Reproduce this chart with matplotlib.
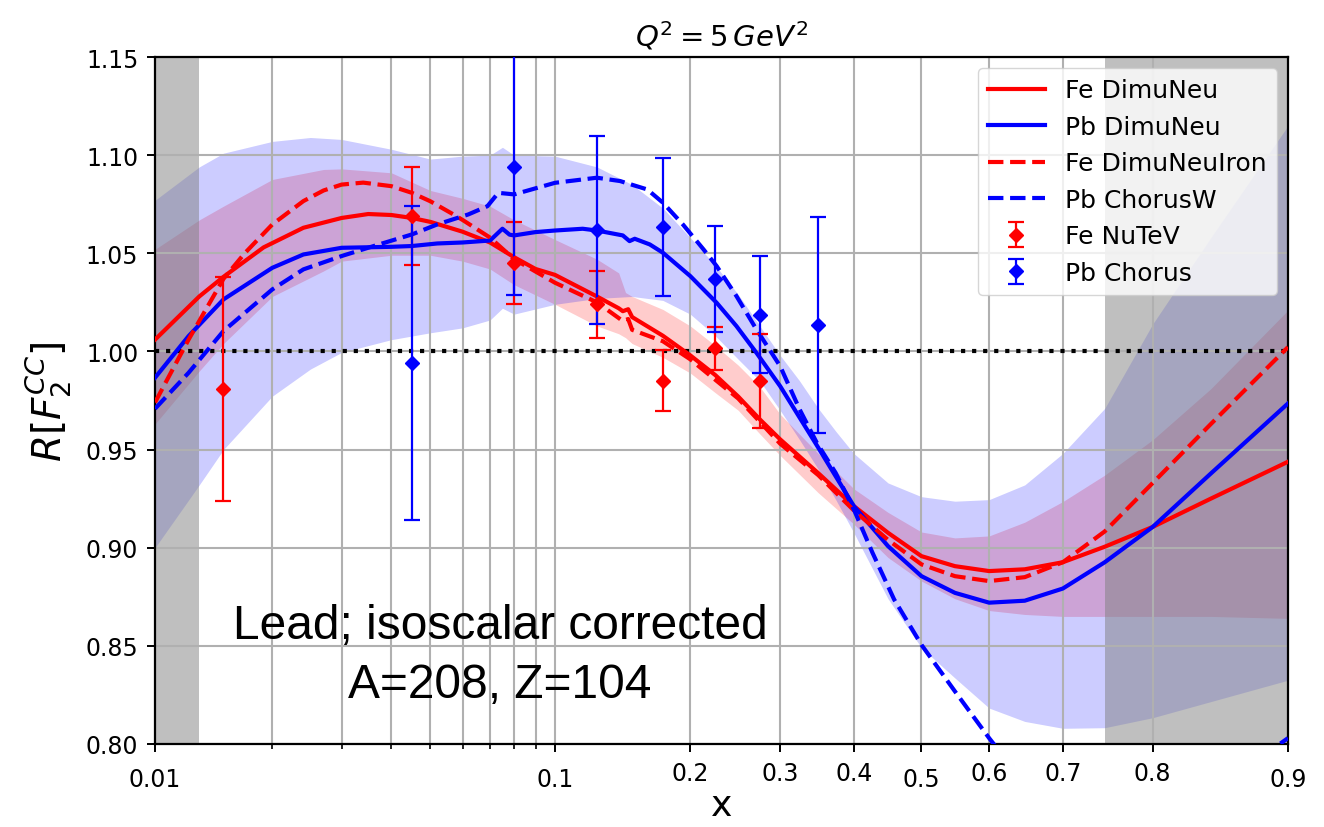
import numpy as np
import matplotlib
matplotlib.use("Agg")
import matplotlib.pyplot as plt
from matplotlib.ticker import NullFormatter

# ---------------- data ----------------
# central curves
fe_dimu_x = [0.01, 0.013, 0.015, 0.019, 0.024, 0.03, 0.035, 0.04, 0.045, 0.05, 0.06, 0.07,
             0.08, 0.09, 0.1, 0.125, 0.14, 0.143, 0.147, 0.15, 0.175, 0.2, 0.225, 0.25,
             0.275, 0.3, 0.35, 0.4, 0.45, 0.5, 0.55, 0.6, 0.65, 0.7, 0.75, 0.8, 0.85, 0.9]
fe_dimu_y = [1.006, 1.028, 1.038, 1.053, 1.063, 1.068, 1.070, 1.0695, 1.068, 1.066, 1.061, 1.0555,
             1.048, 1.042, 1.039, 1.028, 1.022, 1.0205, 1.0215, 1.0175, 1.008, 0.998, 0.988, 0.977,
             0.9654, 0.9552, 0.938, 0.9212, 0.9076, 0.8957, 0.8906, 0.8881, 0.889, 0.8926, 0.9005,
             0.9106, 0.925, 0.9438]

pb_dimu_x = [0.01, 0.0122, 0.015, 0.02, 0.024, 0.03, 0.04, 0.045, 0.052, 0.06, 0.07, 0.075,
             0.078, 0.08, 0.09, 0.1, 0.116, 0.125, 0.143, 0.148, 0.152, 0.164, 0.175, 0.2,
             0.2265, 0.248, 0.271, 0.3, 0.35, 0.4, 0.45, 0.5, 0.55, 0.6, 0.65, 0.7, 0.75,
             0.8, 0.85, 0.9]
pb_dimu_y = [0.9866, 1.0078, 1.0265, 1.0426, 1.0494, 1.0528, 1.0533, 1.0537, 1.055, 1.0555,
             1.0565, 1.0625, 1.0595, 1.0591, 1.0608, 1.0616, 1.0625, 1.0616, 1.0591, 1.0562,
             1.0574, 1.0545, 1.0503, 1.0384, 1.0248, 1.0129, 0.9993, 0.9823, 0.951, 0.9212,
             0.9008, 0.8855, 0.877, 0.872, 0.873, 0.8792, 0.8926, 0.9106, 0.9378, 0.9735]

fe_iron_x = [0.01, 0.0122, 0.015, 0.017, 0.02, 0.024, 0.027, 0.03, 0.034, 0.04, 0.045, 0.05,
             0.057, 0.06, 0.07, 0.08, 0.1, 0.125, 0.143, 0.147, 0.15, 0.175, 0.2, 0.25, 0.3,
             0.35, 0.4, 0.45, 0.5, 0.55, 0.6, 0.65, 0.7, 0.75, 0.8, 0.85, 0.9]
fe_iron_y = [0.974, 1.006, 1.037, 1.050, 1.0647, 1.0766, 1.082, 1.085, 1.086, 1.0842, 1.0808,
             1.0765, 1.0698, 1.067, 1.058, 1.047, 1.035, 1.025, 1.0155, 1.0165, 1.011, 1.0052,
             0.996, 0.976, 0.953, 0.937, 0.919, 0.904, 0.8915, 0.8855, 0.883, 0.885, 0.8926,
             0.9083, 0.933, 0.963, 1.0022]

pb_chorusw_x = [0.01, 0.0122, 0.015, 0.02, 0.024, 0.03, 0.036, 0.045, 0.052, 0.062, 0.069,
                0.0733, 0.08, 0.1, 0.125, 0.141, 0.162, 0.175, 0.193, 0.213, 0.2265, 0.248,
                0.271, 0.3, 0.325, 0.348, 0.374, 0.4, 0.427, 0.459, 0.5, 0.55, 0.6, 0.65,
                0.7, 0.75, 0.8, 0.85, 0.9]
pb_chorusw_y = [0.9708, 0.9891, 1.0104, 1.0316, 1.0418, 1.0486, 1.0536, 1.0596, 1.0647, 1.0698,
                1.074, 1.0808, 1.080, 1.0859, 1.0885, 1.0868, 1.0825, 1.0758, 1.0647, 1.052,
                1.0435, 1.0282, 1.0112, 0.9925, 0.9705, 0.9535, 0.9382, 0.9195, 0.8975, 0.8737,
                0.8505, 0.8268, 0.803, 0.780, 0.765, 0.758, 0.760, 0.775, 0.803]

# uncertainty bands
pb_band_x = [0.01, 0.013, 0.015, 0.02, 0.025, 0.03, 0.04, 0.05, 0.06, 0.07, 0.075, 0.08, 0.1,
             0.125, 0.15, 0.175, 0.2, 0.225, 0.25, 0.275, 0.3, 0.325, 0.35, 0.375, 0.4, 0.45,
             0.5, 0.55, 0.6, 0.65, 0.7, 0.75, 0.8, 0.85, 0.9]
pb_band_hi = [1.077, 1.094, 1.101, 1.107, 1.109, 1.108, 1.103, 1.098, 1.0995, 1.100, 1.104,
              1.100, 1.0995, 1.094, 1.085, 1.073, 1.058, 1.044, 1.029, 1.013, 0.998, 0.985,
              0.971, 0.959, 0.948, 0.933, 0.926, 0.9237, 0.9245, 0.932, 0.948, 0.971, 1.014,
              1.058, 1.115]
pb_band_lo = [0.900, 0.932, 0.950, 0.9772, 0.991, 0.9995, 1.006, 1.0095, 1.012, 1.016, 1.022,
              1.019, 1.024, 1.027, 1.028, 1.026, 1.019, 1.008, 0.996, 0.985, 0.970, 0.955,
              0.940, 0.924, 0.9076, 0.874, 0.849, 0.8336, 0.8183, 0.8115, 0.808, 0.8083,
              0.8134, 0.8216, 0.8325]

fe_band_x = [0.01, 0.013, 0.015, 0.02, 0.027, 0.03, 0.04, 0.05, 0.06, 0.07, 0.08, 0.1, 0.125,
             0.14, 0.145, 0.15, 0.175, 0.2, 0.225, 0.25, 0.275, 0.3, 0.35, 0.4, 0.45, 0.5,
             0.55, 0.6, 0.65, 0.7, 0.75, 0.8, 0.85, 0.9]
fe_band_hi = [1.052, 1.067, 1.074, 1.0876, 1.0927, 1.093, 1.091, 1.082, 1.078, 1.074, 1.067,
              1.057, 1.047, 1.040, 1.030, 1.028, 1.0214, 1.013, 1.003, 0.993, 0.982, 0.968,
              0.948, 0.930, 0.918, 0.908, 0.905, 0.906, 0.913, 0.9235, 0.937, 0.955, 0.981,
              1.021]
fe_band_lo = [0.963, 0.990, 1.004, 1.028, 1.041, 1.046, 1.049, 1.049, 1.046, 1.042, 1.034,
              1.024, 1.013, 1.009, 1.007, 1.004, 0.997, 0.989, 0.979, 0.970, 0.958, 0.947,
              0.928, 0.912, 0.895, 0.883, 0.874, 0.868, 0.866, 0.865, 0.865, 0.865, 0.865,
              0.864]

# data points
fe_nutev_x = [0.015, 0.045, 0.08, 0.125, 0.175, 0.225, 0.275]
fe_nutev_y = [0.981, 1.069, 1.045, 1.024, 0.985, 1.0015, 0.985]
fe_nutev_err = [0.057, 0.025, 0.021, 0.017, 0.0155, 0.011, 0.024]

pb_chorus_x = [0.045, 0.08, 0.125, 0.175, 0.225, 0.275, 0.35]
pb_chorus_y = [0.994, 1.094, 1.062, 1.0634, 1.0371, 1.0188, 1.0136]
pb_chorus_err = [0.080, 0.065, 0.048, 0.035, 0.027, 0.030, 0.055]

# axes / ticks
x_major = [0.01, 0.1, 0.2, 0.3, 0.4, 0.5, 0.6, 0.7, 0.8, 0.9]
x_major_labels = ["0.01", "0.1", "0.2", "0.3", "0.4", "0.5", "0.6", "0.7", "0.8", "0.9"]
x_lowered_labels = ["0.01", "0.1", "0.5", "0.9"]
x_minor = [0.02, 0.03, 0.04, 0.05, 0.06, 0.07, 0.08, 0.09]
y_ticks = [0.80, 0.85, 0.90, 0.95, 1.00, 1.05, 1.10, 1.15]
y_tick_labels = ["0.80", "0.85", "0.90", "0.95", "1.00", "1.05", "1.10", "1.15"]
gray_regions = [(0.01, 0.013), (0.75, 0.9)]

# ---------------- figure ----------------
W, H = 1324, 828
fig = plt.figure(figsize=(W / 100, H / 100), dpi=100)
ax_l, ax_r, ax_t, ax_b = 155, 1288, 58, 745
ax = fig.add_axes([ax_l / W, 1 - ax_b / H, (ax_r - ax_l) / W, (ax_b - ax_t) / H])
ax.set_xscale("logit")

# bands
ax.fill_between(fe_band_x, fe_band_lo, fe_band_hi, color="red", alpha=0.2, lw=0, zorder=1.0)
ax.fill_between(pb_band_x, pb_band_lo, pb_band_hi, color="blue", alpha=0.2, lw=0, zorder=1.05)

# gray excluded regions
for lo, hi in gray_regions:
    ax.axvspan(lo, hi, color="gray", alpha=0.5, lw=0, zorder=1.2)

# curves
ax.plot(fe_dimu_x, fe_dimu_y, color="red", lw=3, label="Fe DimuNeu", zorder=3)
ax.plot(pb_dimu_x, pb_dimu_y, color="blue", lw=3, label="Pb DimuNeu", zorder=3)
ax.plot(fe_iron_x, fe_iron_y, color="red", lw=3, ls="--", label="Fe DimuNeuIron", zorder=3)
ax.plot(pb_chorusw_x, pb_chorusw_y, color="blue", lw=3, ls="--", label="Pb ChorusW", zorder=3)

ax.axhline(1.0, color="black", ls=":", lw=3, zorder=2.5)

# data points
ax.errorbar(fe_nutev_x, fe_nutev_y, yerr=fe_nutev_err, fmt="D", color="red", ms=7.5,
            capsize=6, elinewidth=1.6, capthick=1.6, label="Fe NuTeV", zorder=4)
ax.errorbar(pb_chorus_x, pb_chorus_y, yerr=pb_chorus_err, fmt="D", color="blue", ms=7.5,
            capsize=6, elinewidth=1.6, capthick=1.6, label="Pb Chorus", zorder=4)

# axes formatting
ax.set_xlim(0.01, 0.9)
ax.set_ylim(0.80, 1.15)
ax.set_xticks(x_major, x_major_labels)
ax.set_xticks(x_minor, minor=True)
ax.xaxis.set_minor_formatter(NullFormatter())
ax.set_yticks(y_ticks, y_tick_labels)
ax.tick_params(axis="both", which="major", labelsize=17, length=6, width=1.4, pad=6)
ax.tick_params(axis="x", which="minor", length=3.5, width=1.2)
ax.grid(True, which="major", color="#b0b0b0", lw=1.5)
ax.grid(True, which="minor", axis="x", color="#b0b0b0", lw=1.5)
for sp in ax.spines.values():
    sp.set_linewidth(1.6)

for tick, lab in zip(ax.xaxis.get_major_ticks(), x_major_labels):
    if lab in x_lowered_labels:
        tick.label1.set_y(-6 / (ax_b - ax_t))

ax.set_title(r"$Q^2 = 5\,GeV^2$", fontsize=21, pad=8)
ax.set_xlabel("x", fontsize=26, labelpad=-2)
ax.set_ylabel(r"$R[F_2^{CC}]$", fontsize=28, labelpad=8)

ax.legend(loc="upper right", fontsize=18, framealpha=0.8, handlelength=2.3,
          borderaxespad=0.45)

# overlay annotation
fig.text(500 / W, 1 - 639 / H, "Lead; isoscalar corrected", ha="center", va="baseline",
         fontsize=34.5, family="Liberation Sans")
fig.text(500 / W, 1 - 698 / H, "A=208, Z=104", ha="center", va="baseline",
         fontsize=34.5, family="Liberation Sans")

fig.savefig("out.png", dpi=100)
